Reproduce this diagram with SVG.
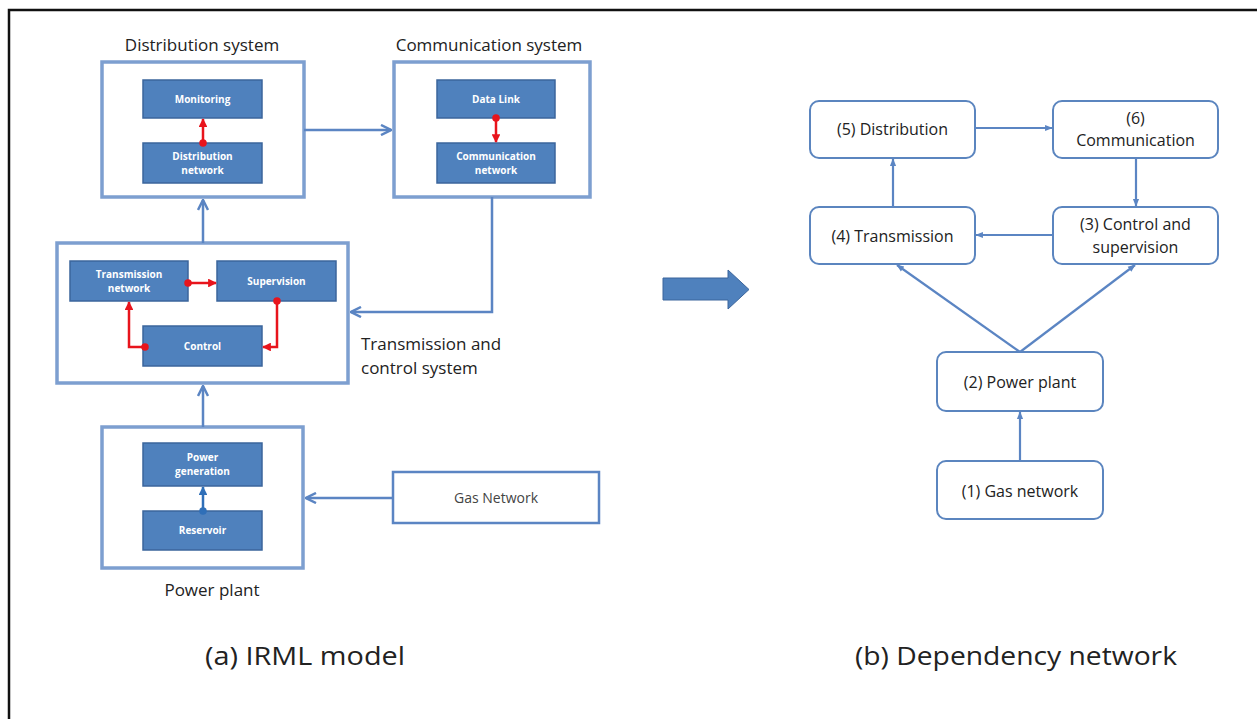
<svg xmlns="http://www.w3.org/2000/svg" width="1257" height="719" viewBox="0 0 1257 719">
<style>
.frame{fill:none;stroke:#111;stroke-width:2.5}
.sys{fill:#fff;stroke:#7d9fd0;stroke-width:3.5}
.inner{fill:#4f81bd;stroke:#3b659c;stroke-width:1.5}
.itxt{font-family:"Open Sans","Liberation Sans",sans-serif;font-size:10px;font-weight:bold;fill:#fff;text-anchor:middle}
.lbl{font-family:"Open Sans","Liberation Sans",sans-serif;font-size:17px;fill:#222}
.node{fill:#fff;stroke:#5b85bf;stroke-width:2}
.ntxt{font-family:"Open Sans","Liberation Sans",sans-serif;font-size:16px;fill:#222;text-anchor:middle}
.cap{font-family:"Open Sans","Liberation Sans",sans-serif;font-size:25px;fill:#222;text-anchor:middle}
.blue{fill:none;stroke:#5b85c3;stroke-width:2.5}
.red{fill:none;stroke:#e8141c;stroke-width:2.5}
.dep{fill:none;stroke:#5b85c3;stroke-width:2.2}
</style>
<defs>
<marker id="open" viewBox="0 0 10 10" refX="9" refY="5" markerWidth="5" markerHeight="5" orient="auto" markerUnits="strokeWidth">
<path d="M1,1 L9,5 L1,9" fill="none" stroke="#5b85c3" stroke-width="2"/>
</marker>
<marker id="redhead" viewBox="0 0 10 10" refX="9" refY="5" markerWidth="3.5" markerHeight="3.5" orient="auto" markerUnits="strokeWidth">
<path d="M0,0 L10,5 L0,10 z" fill="#e8141c"/>
</marker>
<marker id="reddot" viewBox="0 0 10 10" refX="5" refY="5" markerWidth="3" markerHeight="3" markerUnits="strokeWidth">
<circle cx="5" cy="5" r="5" fill="#e8141c"/>
</marker>
<marker id="bluehead" viewBox="0 0 10 10" refX="9" refY="5" markerWidth="3.5" markerHeight="3.5" orient="auto" markerUnits="strokeWidth">
<path d="M0,0 L10,5 L0,10 z" fill="#2f6fb8"/>
</marker>
<marker id="bluedot" viewBox="0 0 10 10" refX="5" refY="5" markerWidth="3" markerHeight="3" markerUnits="strokeWidth">
<circle cx="5" cy="5" r="5" fill="#2f6fb8"/>
</marker>
<marker id="dephead" viewBox="0 0 10 10" refX="9" refY="5" markerWidth="3.5" markerHeight="3.5" orient="auto" markerUnits="strokeWidth">
<path d="M0,1 L10,5 L0,9 z" fill="#5b85c3"/>
</marker>
</defs>
<rect width="1257" height="719" fill="#fff"/>
<path class="frame" d="M9,719 V10 H1257"/>

<g id="distribution-system">
<text class="lbl" x="202" y="51" text-anchor="middle">Distribution system</text>
<rect class="sys" x="102" y="62" width="202" height="135"/>
<g id="monitoring"><rect class="inner" x="143" y="80" width="119" height="38"/><text class="itxt" x="202.5" y="103">Monitoring</text></g>
<g id="distribution-network"><rect class="inner" x="143" y="143" width="119" height="40"/><text class="itxt" x="202.5" y="160">Distribution</text><text class="itxt" x="202.5" y="174">network</text></g>
</g>

<g id="communication-system">
<text class="lbl" x="489" y="51" text-anchor="middle">Communication system</text>
<rect class="sys" x="394" y="62" width="196" height="135"/>
<g id="data-link"><rect class="inner" x="437" y="80" width="118" height="38"/><text class="itxt" x="496" y="103">Data Link</text></g>
<g id="communication-network"><rect class="inner" x="437" y="143" width="118" height="40"/><text class="itxt" x="496" y="160">Communication</text><text class="itxt" x="496" y="174">network</text></g>
</g>

<g id="transmission-control-system">
<rect class="sys" x="57" y="243" width="291" height="140"/>
<text class="lbl" x="361" y="350">Transmission and</text>
<text class="lbl" x="361" y="374">control system</text>
<g id="transmission-network"><rect class="inner" x="70" y="261" width="118" height="40"/><text class="itxt" x="129" y="278">Transmission</text><text class="itxt" x="129" y="292">network</text></g>
<g id="supervision"><rect class="inner" x="217" y="261" width="119" height="40"/><text class="itxt" x="276.5" y="285">Supervision</text></g>
<g id="control"><rect class="inner" x="143" y="326" width="119" height="40"/><text class="itxt" x="202.5" y="350">Control</text></g>
</g>

<g id="power-plant-system">
<rect class="sys" x="102" y="427" width="201" height="141"/>
<text class="lbl" x="212" y="596" text-anchor="middle">Power plant</text>
<g id="power-generation"><rect class="inner" x="143" y="443" width="119" height="43"/><text class="itxt" x="202.5" y="461">Power</text><text class="itxt" x="202.5" y="475">generation</text></g>
<g id="reservoir"><rect class="inner" x="143" y="511" width="119" height="39"/><text class="itxt" x="202.5" y="534">Reservoir</text></g>
</g>

<g id="gas-network">
<rect x="393" y="472" width="206" height="51" fill="#fff" stroke="#5b85c3" stroke-width="2.5"/>
<text x="496" y="503" text-anchor="middle" font-family="'Open Sans','Liberation Sans',sans-serif" font-size="14" fill="#444">Gas Network</text>
</g>

<g id="captions">
<text class="cap" x="305" y="665" textLength="200" lengthAdjust="spacingAndGlyphs">(a) IRML model</text>
<text class="cap" x="1016" y="665" textLength="322" lengthAdjust="spacingAndGlyphs">(b) Dependency network</text>
</g>

<g id="block-arrow">
<path d="M663,278 H728 V270 L749,289.5 L728,309 V300 H663 Z" fill="#4f81bd" stroke="#3b659c" stroke-width="1"/>
</g>

<g id="dep-nodes">
<g id="n5"><rect class="node" x="810" y="101" width="165" height="57" rx="9"/><text class="ntxt" x="892.5" y="135">(5) Distribution</text></g>
<g id="n6"><rect class="node" x="1053" y="101" width="165" height="57" rx="9"/><text class="ntxt" x="1135.5" y="124">(6)</text><text class="ntxt" x="1135.5" y="146">Communication</text></g>
<g id="n4"><rect class="node" x="810" y="207" width="165" height="57" rx="9"/><text class="ntxt" x="892.5" y="242">(4) Transmission</text></g>
<g id="n3"><rect class="node" x="1053" y="207" width="165" height="57" rx="9"/><text class="ntxt" x="1135.5" y="230">(3) Control and</text><text class="ntxt" x="1135.5" y="253">supervision</text></g>
<g id="n2"><rect class="node" x="937" y="352" width="166" height="59" rx="9"/><text class="ntxt" x="1020" y="388">(2) Power plant</text></g>
<g id="n1"><rect class="node" x="937" y="461" width="166" height="58" rx="9"/><text class="ntxt" x="1020" y="497">(1) Gas network</text></g>
</g>

<g id="connectors">
<path class="blue" d="M304,130 H391" marker-end="url(#open)"/>
<path class="blue" d="M203,243 V200" marker-end="url(#open)"/>
<path class="blue" d="M492,197 V312 H351" marker-end="url(#open)"/>
<path class="blue" d="M203,427 V386" marker-end="url(#open)"/>
<path class="blue" d="M393,498 H306" marker-end="url(#open)"/>
<path class="red" d="M203,143 V119" marker-start="url(#reddot)" marker-end="url(#redhead)"/>
<path class="red" d="M496,118 V142" marker-start="url(#reddot)" marker-end="url(#redhead)"/>
<path class="red" d="M188,283 H216" marker-start="url(#reddot)" marker-end="url(#redhead)"/>
<path class="red" d="M277,301 V347 H263" marker-start="url(#reddot)" marker-end="url(#redhead)"/>
<path class="red" d="M145,347 H129 V302" marker-start="url(#reddot)" marker-end="url(#redhead)"/>
<path d="M203,511 V487" fill="none" stroke="#2f6fb8" stroke-width="2.5" marker-start="url(#bluedot)" marker-end="url(#bluehead)"/>
<path class="dep" d="M975,128 H1052" marker-end="url(#dephead)"/>
<path class="dep" d="M1136,158 V206" marker-end="url(#dephead)"/>
<path class="dep" d="M1053,235 H976" marker-end="url(#dephead)"/>
<path class="dep" d="M893,207 V159" marker-end="url(#dephead)"/>
<path class="dep" d="M1020,352 L897,265" marker-end="url(#dephead)"/>
<path class="dep" d="M1020,352 L1135,265" marker-end="url(#dephead)"/>
<path class="dep" d="M1020,461 V412" marker-end="url(#dephead)"/>
</g>
</svg>
